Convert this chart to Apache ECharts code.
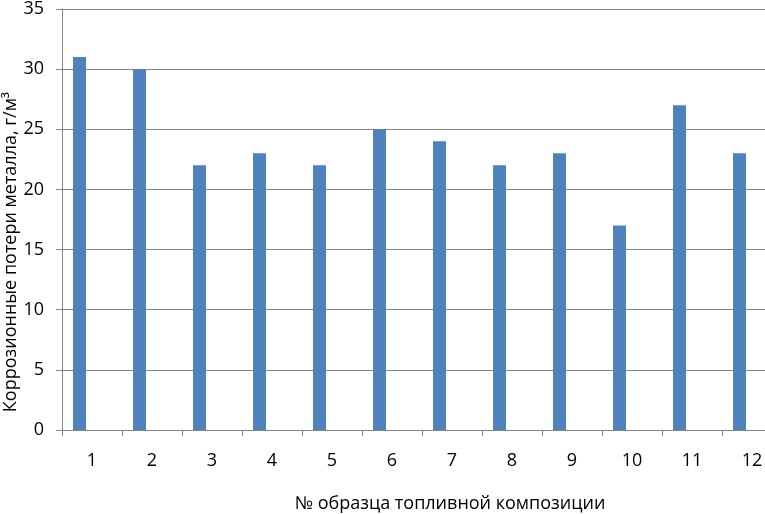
<!DOCTYPE html>
<html><head><meta charset="utf-8">
<script src="https://cdn.jsdelivr.net/npm/echarts@6/dist/echarts.min.js"></script>
<style>html,body{margin:0;padding:0;background:#fff;overflow:hidden;width:765px;height:514px}#c{width:800px;height:514px}</style>
</head><body><div id="c"></div>
<script>
const categories = ['1','2','3','4','5','6','7','8','9','10','11','12'];
const lossValues = [31,30,22,23,22,25,24,22,23,17,27,23];
const emptySeries = categories.map(() => '-');
const yTitle = 'Коррозионные потери металла, г/м³';
const xTitle = '№ образца топливной композиции';

const font = '"Open Sans", "Liberation Sans", sans-serif';
const gray = '#868686';
const chart = echarts.init(document.getElementById('c'), null, {renderer: 'canvas'});
chart.setOption({
  animation: false,
  grid: {left: 62, top: 8, width: 720, height: 422, containLabel: false},
  xAxis: {
    type: 'category', data: categories,
    axisLine: {lineStyle: {color: gray, width: 1}},
    axisTick: {show: true, alignWithLabel: false, length: 6, lineStyle: {color: gray}},
    axisLabel: {color: '#000', fontFamily: font, fontSize: 18, margin: 22}
  },
  yAxis: {
    type: 'value', min: 0, max: 35, interval: 5,
    axisLine: {show: true, lineStyle: {color: gray, width: 1}},
    axisTick: {show: true, length: 6, lineStyle: {color: gray}},
    axisLabel: {color: '#000', fontFamily: font, fontSize: 18, margin: 18},
    splitLine: {show: true, lineStyle: {color: gray, width: 1}}
  },
  graphic: [{
    type: 'text', x: 450, y: 504,
    style: {text: xTitle, fill: '#000', font: '18px ' + font, align: 'center', verticalAlign: 'middle'}
  }, {
    type: 'text', x: 11, y: 252, rotation: Math.PI / 2,
    style: {text: yTitle, fill: '#000', font: '18px ' + font, align: 'center', verticalAlign: 'middle'}
  }],
  series: [
    {type: 'bar', data: lossValues, barWidth: 13, barGap: '92%', itemStyle: {color: '#4F81BD'}},
    {type: 'bar', data: emptySeries, barWidth: 13, itemStyle: {color: '#C0504D'}}
  ]
});
</script></body></html>
